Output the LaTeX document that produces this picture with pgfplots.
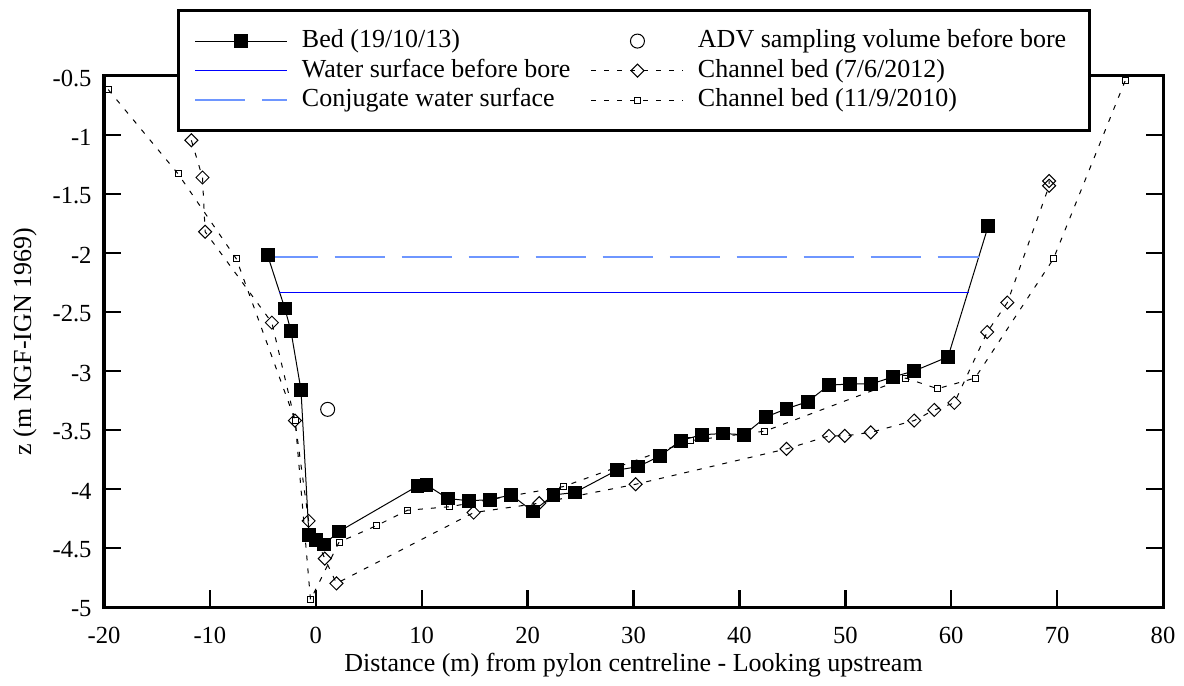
\documentclass[border=0pt]{standalone}
\usepackage{fontspec}
\setmainfont{Liberation Serif}
\usepackage{pgfplots}
\pgfplotsset{compat=1.18}
\definecolor{conjblue}{RGB}{110,150,255}
\begin{document}
\fontsize{13}{15.6}\selectfont
\begin{tikzpicture}
\begin{axis}[
 scale only axis, width=529.5pt, height=265.5pt,
 xmin=-20, xmax=80, ymin=-5, ymax=-0.5,
 xtick={-20,-10,...,80},
 ytick={-5,-4.5,-4,-3.5,-3,-2.5,-2,-1.5,-1,-0.5},
 tick align=inside, major tick length=8.5pt,
 axis line style={line width=1.5pt},
 tick style={line width=1.2pt, black},
 /pgf/number format/assume math mode=true,
 ticklabel style={font=\fontsize{12.3}{14}\selectfont},
 xticklabel style={yshift=-5.5pt},
 yticklabel style={xshift=-1.7pt, yshift=-1pt},
 xlabel={Distance (m) from pylon centreline - Looking upstream},
 ylabel={z (m NGF-IGN 1969)},
 xlabel style={at={(axis description cs:0.5,-0.109)}, anchor=center},
 ylabel style={at={(axis description cs:-0.0746,0.5)}, anchor=center},
 legend columns=2,
 legend image code/.code={\draw[mark repeat=2,mark phase=2] plot coordinates {(0pt,0pt) (23pt,0pt) (46pt,0pt)}; \path[draw=none,fill=none] (0pt,-3pt) (46pt,3pt);},
 legend style={at={(axis description cs:0.0689,1.126)}, anchor=north west,
   draw=black, line width=1.5pt, fill=white,
   inner xsep=8pt, inner ysep=9pt,
   nodes={inner sep=0pt, anchor=west, text height=9.5pt, text depth=3pt},
   row sep=2.25pt, column sep=0pt,
   /tikz/every odd column/.append style={column sep=7pt}},
]
\addplot[black, line width=0.5pt, mark=square*, mark size=3.2pt, mark options={solid}] coordinates {
(-4.55,-2.02) (-2.92,-2.47) (-2.35,-2.66) (-1.4,-3.16) (-0.65,-4.39) (0.05,-4.43) (0.75,-4.47) (2.2,-4.36)
(9.6,-3.975) (10.45,-3.965) (12.45,-4.08) (14.45,-4.10) (16.45,-4.09) (18.45,-4.05) (20.5,-4.19) (22.45,-4.05)
(24.45,-4.03) (28.45,-3.84) (30.45,-3.81) (32.5,-3.72) (34.45,-3.59) (36.45,-3.54) (38.45,-3.53) (40.45,-3.54)
(42.5,-3.39) (44.45,-3.32) (46.45,-3.26) (48.45,-3.12) (50.45,-3.11) (52.45,-3.11) (54.5,-3.05) (56.5,-3.0)
(59.7,-2.88) (63.5,-1.77)};
\addlegendentry{\makebox[144.5pt][l]{Bed (19/10/13)}}
\addplot[only marks, black, line width=0.5pt, mark=o, mark size=3.5pt] coordinates {(1.12,-3.325)};
\addlegendentry{\makebox[188pt][l]{ADV sampling volume before bore}}
\addplot[blue, line width=0.75pt] coordinates {(-3.45,-2.335) (61.7,-2.335)};
\addlegendentry{\makebox[144.5pt][l]{Water surface before bore}}
\addplot[black, line width=0.5pt, dash pattern=on 2.5pt off 4pt, mark=square, mark size=2.3pt, mark options={solid, rotate=45}] coordinates {
(-11.75,-1.045) (-10.7,-1.36) (-10.45,-1.82) (-4.15,-2.59) (-1.97,-3.42) (-0.68,-4.27) (0.85,-4.59) (1.95,-4.80)
(14.9,-4.20) (21.1,-4.12) (30.2,-3.96) (44.45,-3.66) (48.45,-3.55) (49.95,-3.55) (52.4,-3.52) (56.5,-3.42)
(58.4,-3.33) (60.3,-3.27) (63.4,-2.67) (65.3,-2.42) (69.25,-1.43) (69.25,-1.39)};
\addlegendentry{Channel bed (7/6/2012)}
\addplot[conjblue, line width=0.75pt, dash pattern=on 25pt off 8.5pt] coordinates {(-4.55,-2.035) (62.6,-2.035)};
\addlegendentry{\makebox[144.5pt][l]{Conjugate water surface}}
\addplot[black, line width=0.5pt, dash pattern=on 2.5pt off 4pt, mark=square, mark size=1.5pt, mark options={solid}] coordinates {
(-19.6,-0.615) (-13.0,-1.33) (-7.5,-2.05) (-1.95,-3.42) (-0.5,-4.94) (2.2,-4.45) (5.75,-4.31) (8.65,-4.18)
(12.65,-4.15) (23.35,-3.98) (35.4,-3.59) (42.4,-3.51) (55.7,-3.06) (58.7,-3.15) (62.25,-3.06) (69.65,-2.05)
(76.45,-0.535)};
\addlegendentry{Channel bed (11/9/2010)}
\end{axis}
\pgfresetboundingbox
\path[use as bounding box] ([xshift=-52pt,yshift=-39pt]current axis.south west) rectangle ([xshift=10.5pt,yshift=38pt]current axis.north east);
\end{tikzpicture}
\end{document}
